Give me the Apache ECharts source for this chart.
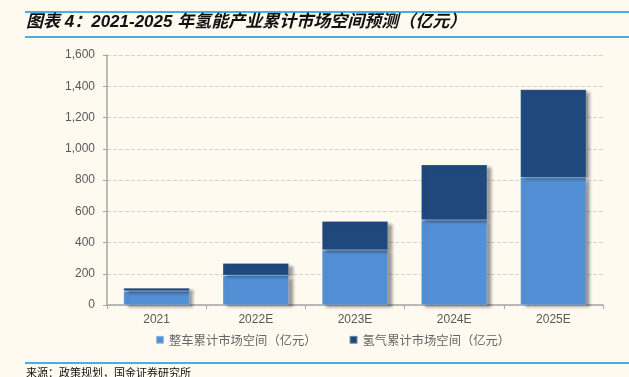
<!DOCTYPE html>
<html>
<head>
<meta charset="utf-8">
<script src="https://cdn.jsdelivr.net/npm/echarts@6/dist/echarts.min.js"></script>
<style>
html,body{margin:0;padding:0;background:#FEFAF0;}
#chart{width:629px;height:377px;}
</style>
</head>
<body>
<div id="chart"></div>
<script>
var categories = ['2021', '2022E', '2023E', '2024E', '2025E'];
var vehicleValues = [90, 190, 352, 544, 815];
var hydrogenValues = [19, 77, 184, 354, 564];
var seriesNames = ['整车累计市场空间（亿元）', '氢气累计市场空间（亿元）'];
var titleText = '图表 4：2021-2025 年氢能产业累计市场空间预测（亿元）';
var sourceText = '来源：政策规划，国金证券研究所';

var chart = echarts.init(document.getElementById('chart'));
var shadow = {shadowColor: 'rgba(0,0,0,0.4)', shadowBlur: 3, shadowOffsetX: 4, shadowOffsetY: 2};
chart.setOption({
  backgroundColor: '#FEFAF0',
  animation: false,
  graphic: [
    {type: 'rect', shape: {x: 25, y: 11, width: 604, height: 2}, style: {fill: '#4AAEE3'}},
    {type: 'rect', shape: {x: 25, y: 36, width: 604, height: 2}, style: {fill: '#4AAEE3'}},
    {type: 'text', left: 26, top: 14, style: {text: titleText, font: 'italic bold 17px "Liberation Sans", "Noto Sans CJK SC"', fill: '#111'}},
    {type: 'rect', shape: {x: 25, y: 362, width: 604, height: 2}, style: {fill: '#4AAEE3'}},
    {type: 'text', left: 26, top: 367, style: {text: sourceText, font: '11px "Noto Sans CJK SC"', fill: '#111'}}
  ],
  grid: {left: 107, right: 26, top: 55, bottom: 72},
  legend: {
    bottom: 26, left: 150,
    itemWidth: 8, itemHeight: 8, itemGap: 32,
    icon: 'rect',
    textStyle: {fontFamily: 'Noto Sans CJK SC', fontSize: 12.3, color: '#666666'},
    data: seriesNames
  },
  xAxis: {
    type: 'category', data: categories,
    axisLine: {lineStyle: {color: '#A6A6A6', width: 1.5}},
    axisTick: {show: true, length: 4, lineStyle: {color: '#A6A6A6'}},
    axisLabel: {fontFamily: 'Liberation Sans', fontSize: 12, color: '#595959', margin: 9}
  },
  yAxis: {
    type: 'value', min: 0, max: 1600, interval: 200,
    axisLine: {show: true, lineStyle: {color: '#A6A6A6', width: 1.5}},
    axisTick: {show: true, length: 4, lineStyle: {color: '#A6A6A6'}},
    axisLabel: {fontFamily: 'Liberation Sans', fontSize: 12, color: '#595959', margin: 12,
      formatter: function(v){ return v.toLocaleString('en-US'); }},
    splitLine: {lineStyle: {color: '#D3D3D3', type: [4, 2]}}
  },
  series: [
    {name: seriesNames[0], type: 'bar', stack: 'total', barWidth: 66, data: vehicleValues,
      itemStyle: Object.assign({color: '#538FD4', borderColor: 'rgba(255,255,255,0.4)', borderWidth: 0.5}, shadow)},
    {name: seriesNames[1], type: 'bar', stack: 'total', barWidth: 66, data: hydrogenValues,
      itemStyle: Object.assign({color: '#1F497C', borderColor: 'rgba(255,255,255,0.4)', borderWidth: 0.5}, shadow)}
  ]
});
</script>
</body>
</html>
